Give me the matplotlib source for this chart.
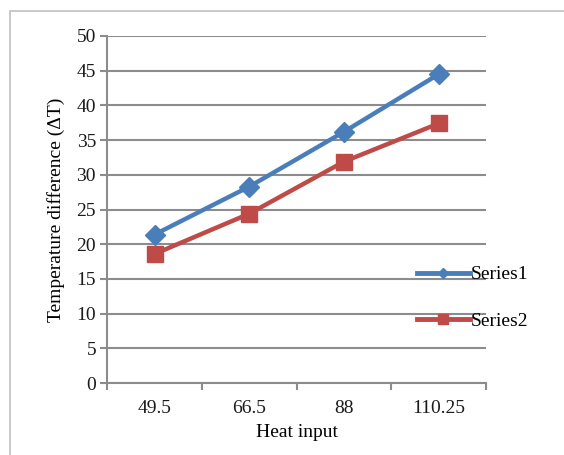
import matplotlib.pyplot as plt
from matplotlib.lines import Line2D
from matplotlib.patches import Rectangle

plt.rcParams['font.family'] = 'Liberation Serif'
plt.rcParams['font.size'] = 14

# Data
heat_input = ['49.5', '66.5', '88', '110.25']
series1 = [21.4, 28.3, 36.2, 44.5]
series2 = [18.6, 24.4, 31.9, 37.4]

color1 = '#4A7EBB'
color2 = '#BE4B48'
grid_color = '#8C8C8C'

fig = plt.figure(figsize=(5.64, 4.55), dpi=100)
ax = fig.add_axes([0.19, 0.158, 0.672, 0.763])

# outer chart-area frame
fig.patches.append(Rectangle((10 / 564, -0.1), 1.2, 1 - 11 / 455 + 0.1,
                             transform=fig.transFigure, fill=False,
                             edgecolor='#BFBFBF', linewidth=1.2))

x = list(range(len(heat_input)))
ax.plot(x, series1, color=color1, linewidth=3.2, marker='D', markersize=10,
        zorder=3)
ax.plot(x, series2, color=color2, linewidth=3.2, marker='s', markersize=12,
        zorder=3)

ax.set_xlim(-0.5, len(heat_input) - 0.5)
ax.set_ylim(0, 50)
ax.set_yticks(range(0, 51, 5))
ax.set_xticks(x)
ax.set_xticklabels(heat_input)
ax.set_xticks([i - 0.5 for i in range(len(heat_input) + 1)], minor=True)

ax.grid(True, axis='y', color=grid_color, linewidth=1.5)
ax.set_axisbelow(True)
for side in ['top', 'right']:
    ax.spines[side].set_visible(False)
for side in ['left', 'bottom']:
    ax.spines[side].set_color(grid_color)
    ax.spines[side].set_linewidth(1.5)

ax.tick_params(axis='y', length=5, width=1.5, color=grid_color, pad=3,
               labelcolor='#1a1a1a')
ax.tick_params(axis='x', which='major', length=0, pad=12, labelcolor='#1a1a1a')
ax.tick_params(axis='x', which='minor', length=5, width=1.5, color=grid_color)

ax.set_xlabel('Heat input', labelpad=5)
ax.set_ylabel('Temperature difference (ΔT)', labelpad=8)

handles = [
    Line2D([], [], color=color1, linewidth=3.5, marker='D', markersize=5),
    Line2D([], [], color=color2, linewidth=3.5, marker='s', markersize=7),
]
fig.legend(handles, ['Series1', 'Series2'], loc='center left',
           bbox_to_anchor=(417 / 564, 1 - 298 / 455), frameon=False,
           borderpad=0, borderaxespad=0, handlelength=2.7,
           handletextpad=0.05, labelspacing=1.5)

plt.savefig('out.png', dpi=100)
